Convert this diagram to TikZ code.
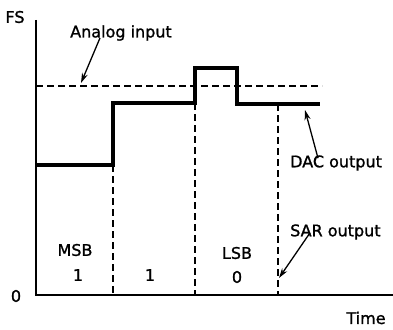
\documentclass[tikz,border=0pt]{standalone}
\usepackage{fontspec}
\setmainfont{DejaVu Sans}[FakeBold=1.2]
\usetikzlibrary{arrows.meta}
\begin{document}
\begin{tikzpicture}[x=1pt,y=-1pt,
 lbl/.style={font=\fontsize{16}{18}\selectfont, inner sep=0pt},
 axis/.style={line width=1.8pt},
 dac/.style={line width=3.2pt, line join=miter},
 dsh/.style={line width=1.5pt, dash pattern=on 7pt off 4pt},
 ptr/.style={line width=1.3pt, -{Stealth[length=10pt,width=6pt]}}]
\useasboundingbox (0,0) rectangle (393,329);
% axes
\coordinate (O) at (36,295);
\coordinate (ytop) at (36,20);
\coordinate (xend) at (393,295);
\draw[axis] (ytop) -- (O) -- (xend);
\node[lbl] (fs) at (15,17) {FS};
\node[lbl] (zero) at (16,296) {0};
\node[lbl] (time) at (366,318) {Time};
% analog input
\coordinate (a0) at (36,86);
\coordinate (a1) at (322,86);
\draw[dsh] (a0) -- (a1);
% DAC output staircase
\coordinate (d0) at (36,165);
\coordinate (d1) at (113,103);
\coordinate (d2) at (195,68);
\coordinate (d3) at (237,104);
\coordinate (d4) at (320,104);
\draw[dac] (d0) -| (d1) -| (d2) -| (d3) -- (d4);
% bit boundaries
\coordinate (v1t) at (113,165); \coordinate (v1b) at (113,295);
\coordinate (v2t) at (195,103); \coordinate (v2b) at (195,295);
\coordinate (v3t) at (278,104); \coordinate (v3b) at (278,295);
\draw[dsh] (v1t) -- (v1b);
\draw[dsh] (v2t) -- (v2b);
\draw[dsh] (v3t) -- (v3b);
% bit labels
\node[lbl] (msb) at (75,250) {MSB};
\node[lbl] (b1) at (78,275) {1};
\node[lbl] (b2) at (150,275) {1};
\node[lbl] (lsb) at (237,253) {LSB};
\node[lbl] (b3) at (237,277) {0};
% callouts
\node[lbl] (ai) at (121,33) {Analog input};
\node[lbl, anchor=west] (dacl) at (290,163) {DAC output};
\node[lbl, anchor=west] (sar) at (290,232) {SAR output};
\coordinate (aitip) at (81,83);
\coordinate (dactip) at (305,110);
\coordinate (sartip) at (279,278);
\draw[ptr] ([xshift=-21pt,yshift=3pt]ai.south) -- (aitip);
\draw[ptr] ([xshift=28pt,yshift=-3pt]dacl.north west) -- (dactip);
\draw[ptr] ([xshift=20pt,yshift=7pt]sar.south west) -- (sartip);
\end{tikzpicture}
\end{document}
